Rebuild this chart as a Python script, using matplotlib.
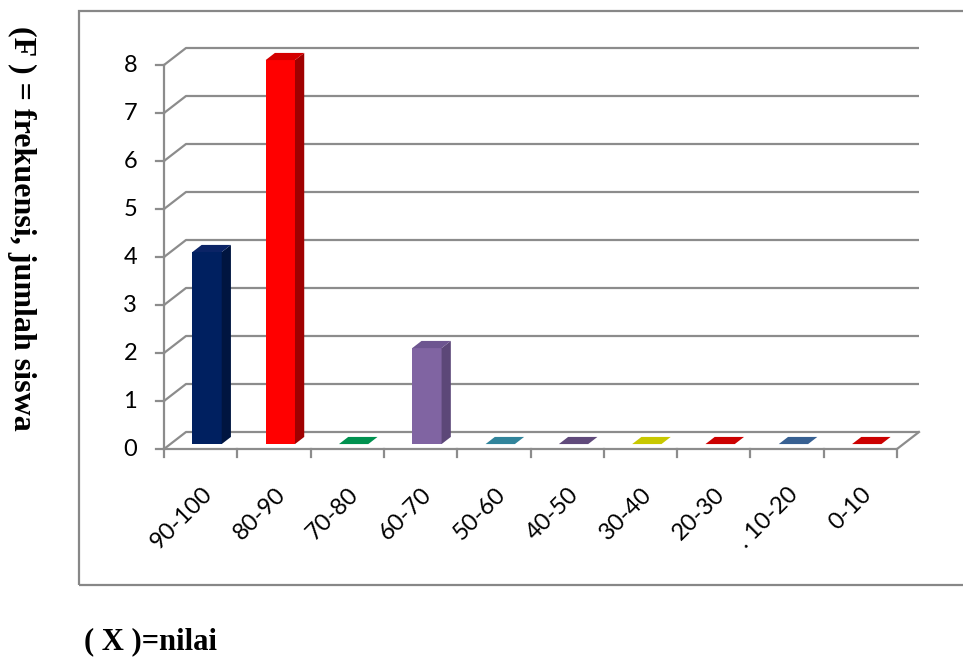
import matplotlib
matplotlib.use("Agg")
import matplotlib.pyplot as plt
from matplotlib.patches import Polygon, Rectangle

# Frequency of students per score interval
categories = ["90-100", "80-90", "70-80", "60-70", "50-60",
              "40-50", "30-40", "20-30", ". 10-20", "0-10"]
frequencies = [4, 8, 0, 2, 0, 0, 0, 0, 0, 0]
y_ticks = [0, 1, 2, 3, 4, 5, 6, 7, 8]

# Face colours for each bar: front, side, top
front_colors = ["#002060", "#ff0000", "#00a050", "#8064a2", "#31859c",
                "#604a7b", "#c8c800", "#cc0000", "#376092", "#cc0000"]
side_colors = ["#001540", "#a00000", "#006b35", "#5c4778", "#235f70",
               "#453558", "#909000", "#940000", "#284669", "#940000"]
top_colors = ["#0b2466", "#d40000", "#00914f", "#6d5590", "#31849b",
              "#604a7b", "#c8c800", "#cc0000", "#376092", "#cc0000"]

W, H = 963, 657
fig = plt.figure(figsize=(W / 100, H / 100), dpi=100)

# Front plane of the plot area in pixels
px_left, px_right, px_bottom, px_top = 164, 897, 449, 65
ax = fig.add_axes([px_left / W, 1 - px_bottom / H,
                   (px_right - px_left) / W, (px_bottom - px_top) / H])
n = len(categories)
ymax = y_ticks[-1]
ax.set_xlim(0, n)
ax.set_ylim(0, ymax)
ax.axis("off")

ux = n / (px_right - px_left)      # data units per pixel, x
uy = ymax / (px_bottom - px_top)   # data units per pixel, y

# Depth of the 3-D box (oblique projection)
DX = 22 * ux
DY = 17 * uy

grid_c = "#8c8c8c"
lw = 1.6
tick_font = dict(fontsize=17, family="Lato", color="#000000")

# Outer chart frame
fig.add_artist(Rectangle((79 / W, 1 - 585 / H), 1.0, (585 - 11) / H,
                         transform=fig.transFigure, fill=False,
                         edgecolor="#878787", linewidth=1.6))

# Gridlines on the left wall and back wall
for v in y_ticks:
    ax.plot([0, DX, n + DX], [v, v + DY, v + DY], color=grid_c, lw=lw,
            clip_on=False, zorder=1, solid_capstyle="butt")
    ax.plot([-8 * ux, 0], [v, v], color=grid_c, lw=lw, clip_on=False, zorder=1)
    ax.text(-27 * ux, v, str(v), ha="right", va="center", **tick_font)

# Vertical axis and floor edges
ax.plot([0, 0], [0, ymax], color=grid_c, lw=lw, clip_on=False, zorder=2)
ax.plot([0, n, n + DX], [0, 0, DY], color=grid_c, lw=lw, clip_on=False, zorder=2)
for i in range(n + 1):
    ax.plot([i, i], [0, -8 * uy], color=grid_c, lw=lw, clip_on=False, zorder=2)

# Bars drawn as front, side and top faces
bw = 0.40
f0, f1 = 0.29, 0.71
for i, v in enumerate(frequencies):
    c = i + 0.5
    x0 = c - bw / 2 + f0 * DX
    x1 = c + bw / 2 + f0 * DX
    y0 = f0 * DY
    ox, oy = (f1 - f0) * DX, (f1 - f0) * DY
    if v > 0:
        ax.add_patch(Polygon([(x0, y0), (x1, y0), (x1, y0 + v), (x0, y0 + v)],
                             closed=True, facecolor=front_colors[i],
                             edgecolor="none", zorder=5, clip_on=False))
        ax.add_patch(Polygon([(x1, y0), (x1 + ox, y0 + oy),
                              (x1 + ox, y0 + oy + v), (x1, y0 + v)],
                             closed=True, facecolor=side_colors[i],
                             edgecolor="none", zorder=5, clip_on=False))
    ax.add_patch(Polygon([(x0, y0 + v), (x1, y0 + v),
                          (x1 + ox, y0 + oy + v), (x0 + ox, y0 + oy + v)],
                         closed=True, facecolor=top_colors[i],
                         edgecolor="none", zorder=5, clip_on=False))

# Category labels
for i, lab in enumerate(categories):
    ax.text(i + 0.5 + 8 * ux, -42 * uy, lab, rotation=45,
            rotation_mode="anchor", ha="right", va="center", **tick_font)

# Axis titles
fig.text(22 / W, 1 - 228 / H, "(F ) = frekuensi, jumlah siswa", rotation=-90,
         ha="center", va="center", fontsize=23, fontweight="bold",
         family="Liberation Serif")
fig.text(84 / W, 1 - 649 / H, "( X )=nilai", ha="left", va="baseline",
         fontsize=22, fontweight="bold", family="Liberation Serif")

fig.savefig("out.png", dpi=100)
